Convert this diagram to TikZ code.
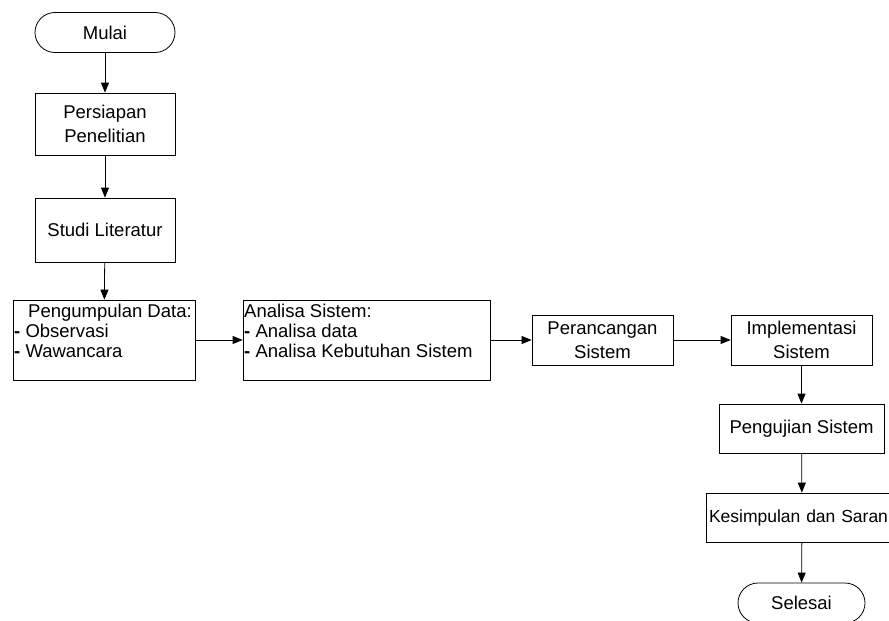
\documentclass[tikz,border=0pt]{standalone}
\usepackage{fontspec}
\setmainfont{Liberation Sans}
\usetikzlibrary{arrows.meta}
\begin{document}
\begin{tikzpicture}[x=1pt,y=-1pt,
  every node/.style={font=\fontsize{18.5}{24}\selectfont},
  box/.style={draw, line width=0.8pt, rectangle, inner sep=2pt, align=center},
  term/.style={draw, line width=0.8pt, rectangle, rounded corners=20pt, minimum width=140pt, minimum height=40pt},
  lst/.style={anchor=north west, inner sep=0pt, align=left, font=\fontsize{18.5}{20}\selectfont},
  arr/.style={line width=0.8pt, -{Triangle[length=10pt,width=8pt]}}]
\useasboundingbox (0,0) rectangle (889,621);
\node[term] (mulai) at (105,32.5) {Mulai};
\node[box, minimum width=140pt, minimum height=62pt] (persiapan) at (105,124) {Persiapan\\Penelitian};
\node[box, minimum width=140pt, minimum height=64pt] (studi) at (105,230) {Studi Literatur};
\node[box, minimum width=182pt, minimum height=80pt] (pk) at (104,340) {};
\node[lst] (pkt) at (14,304) {\hspace{14pt}Pengumpulan Data:\\\textbf{-} Observasi\\\textbf{-} Wawancara};
\node[box, minimum width=247pt, minimum height=80pt] (an) at (366.5,340) {};
\node[lst] (ant) at (244,304) {Analisa Sistem:\\\textbf{-} Analisa data\\\textbf{-} Analisa Kebutuhan Sistem};
\node[box, minimum width=141pt, minimum height=50pt] (per) at (602.5,340) {Perancangan\\Sistem};
\node[box, minimum width=141pt, minimum height=50pt] (imp) at (801.5,340) {Implementasi\\Sistem};
\node[box, minimum width=165pt, minimum height=49pt] (uji) at (801.5,428.5) {Pengujian Sistem};
\node[box, minimum width=192pt, minimum height=49pt, align=left, text width=186pt, font=\fontsize{17.5}{24}\selectfont] (kes) at (802,517.5) {Kesimpulan dan Saran};
\node[term, minimum width=127pt] (sel) at (801.5,603) {Selesai};
\draw[arr] (mulai) -- (persiapan);
\draw[arr] (persiapan) -- (studi);
\draw[arr] (studi) -- (pk);
\draw[arr] (pk) -- (an);
\draw[arr] (an) -- (per);
\draw[arr] (per) -- (imp);
\draw[arr] (imp) -- (uji);
\draw[arr] (uji) -- (kes);
\draw[arr] (kes) -- (sel);
\end{tikzpicture}
\end{document}
